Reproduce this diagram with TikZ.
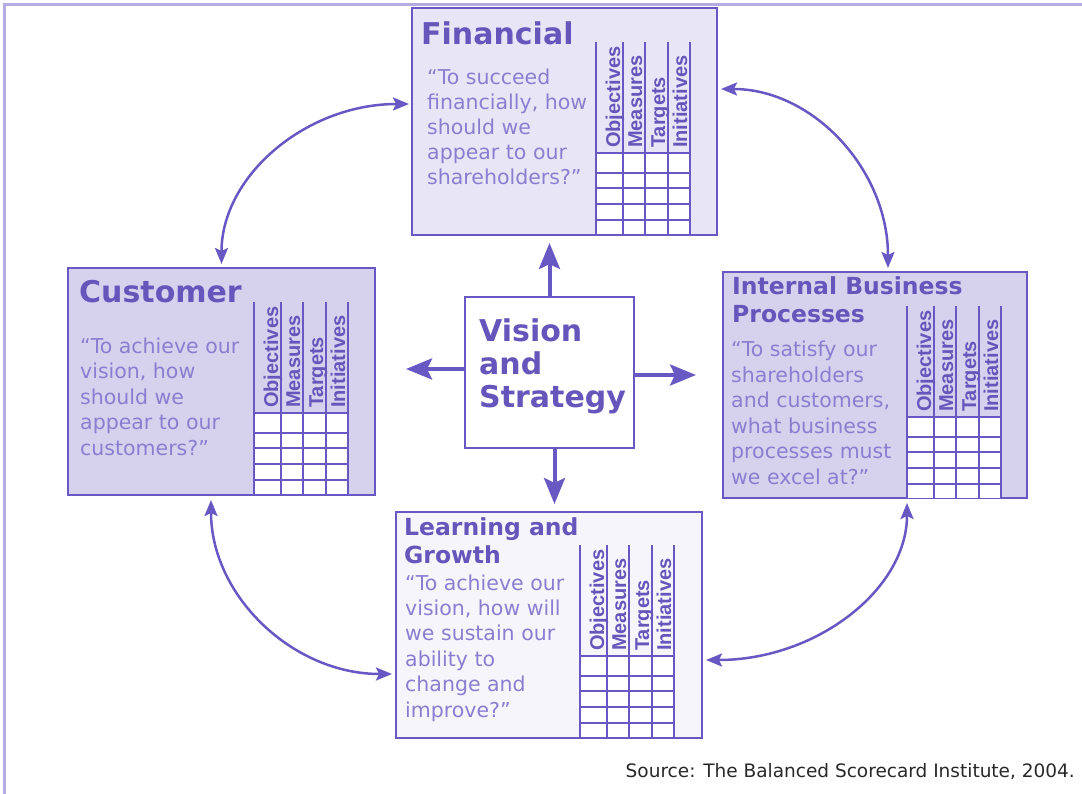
\documentclass[tikz,border=0pt]{standalone}
\usepackage{fontspec}
\setmainfont{DejaVu Sans}
\newfontfamily\labfont{Liberation Sans}
\usetikzlibrary{arrows.meta,calc}
\definecolor{lineC}{RGB}{104,88,196}
\definecolor{titleC}{RGB}{102,85,187}
\definecolor{quoteC}{RGB}{138,126,208}
\definecolor{finFill}{RGB}{232,230,246}
\definecolor{custFill}{RGB}{214,210,238}
\definecolor{learnFill}{RGB}{246,245,252}
\definecolor{frameC}{RGB}{180,172,224}
\definecolor{srcC}{RGB}{40,40,40}
\tikzset{
  box/.style={draw=lineC, line width=2pt, inner sep=0pt},
  gridline/.style={draw=lineC, line width=2pt},
  collab/.style={rotate=90, anchor=base west, inner sep=0pt, text=titleC,
    font=\labfont\bfseries\fontsize{20}{24}\selectfont},
  ttl/.style={anchor=base west, inner sep=0pt, text=titleC,
    font=\bfseries\fontsize{30}{36}\selectfont},
  ttlsmall/.style={anchor=base west, inner sep=0pt, text=titleC,
    font=\bfseries\fontsize{23.5}{28}\selectfont},
  quote/.style={anchor=base west, inner sep=0pt, text=quoteC,
    font=\fontsize{20.5}{25}\selectfont},
  biglink/.style={draw=lineC, line width=4pt,
    -{Stealth[length=26pt,width=21pt,inset=5pt]}},
  arclink/.style={draw=lineC, line width=2.5pt,
    {Stealth[length=16pt,width=13pt,inset=3pt]}-{Stealth[length=16pt,width=13pt,inset=3pt]}},
}
% grid: #1 prefix, #2 x, #3 y of grid top
\newcommand{\scgrid}[3]{%
  \fill[white] (#2,#3) rectangle ({#2+94},{#3+81});
  \draw[gridline]
    (#2,{#3-111}) -- (#2,{#3+82})
    ({#2+27},{#3-111}) -- ({#2+27},{#3+82})
    ({#2+49},{#3-111}) -- ({#2+49},{#3+82})
    ({#2+72},{#3-111}) -- ({#2+72},{#3+82})
    ({#2+94},{#3-111}) -- ({#2+94},{#3+82});
  \draw[gridline]
    (#2,#3) -- ({#2+94},#3)
    (#2,{#3+20}) -- ({#2+94},{#3+20})
    (#2,{#3+35}) -- ({#2+94},{#3+35})
    (#2,{#3+51}) -- ({#2+94},{#3+51})
    (#2,{#3+67}) -- ({#2+94},{#3+67});
  \node[collab] (#1c1) at ({#2+24},{#3-5}) {Objectives};
  \node[collab] (#1c2) at ({#2+46},{#3-5}) {Measures};
  \node[collab] (#1c3) at ({#2+69},{#3-5}) {Targets};
  \node[collab] (#1c4) at ({#2+91},{#3-5}) {Initiatives};
}
% quote lines: #1 prefix, #2 x, #3 first baseline, #4 pitch, #5 lines
\newcommand{\quotelines}[5]{%
  \foreach \t [count=\i from 0] in {#5}
    \node[quote] (#1\i) at (#2,{#3+#4*\i}) {\t};
}
\begin{document}
\begin{tikzpicture}[x=1pt,y=-1pt]
\useasboundingbox (0,0) rectangle (1082,794);
% frame
\draw[frameC, line width=3pt] (4.3,794) -- (4.3,4.5) -- (1082,4.5);

% boxes
\node[box, fill=finFill, minimum width=305pt, minimum height=227pt] (fin) at (564.5,121.5) {};
\node[box, fill=custFill, minimum width=307pt, minimum height=227pt] (cust) at (221.5,381.5) {};
\node[box, fill=custFill, minimum width=304pt, minimum height=226pt] (int) at (875,385) {};
\node[box, fill=learnFill, minimum width=306pt, minimum height=226pt] (learn) at (549,625) {};
\node[box, fill=white, minimum width=169pt, minimum height=151pt] (vis) at (549.5,372.5) {};

% grids
\scgrid{fin}{596}{153}
\scgrid{cust}{254}{413}
\scgrid{int}{907}{417}
\scgrid{learn}{580}{656}

% titles
\node[ttl] (finT) at (421,45) {Financial};
\node[ttl] (custT) at (79,303) {Customer};
\node[ttlsmall] (intT1) at (732,295) {Internal Business};
\node[ttlsmall] (intT2) at (732,323) {Processes};
\node[ttlsmall] (learnT1) at (404,535) {Learning and};
\node[ttlsmall] (learnT2) at (404,563) {Growth};

% quotes
\quotelines{finq}{427}{85}{25}{{“To succeed},{financially, how},{should we},{appear to our},{shareholders?”}}
\quotelines{custq}{80}{353}{25.5}{{“To achieve our},{vision, how},{should we},{appear to our},{customers?”}}
\quotelines{intq}{731}{357}{25.4}{{“To satisfy our},{shareholders},{and customers,},{what business},{processes must},{we excel at?”}}
\quotelines{learnq}{405}{590}{25.4}{{“To achieve our},{vision, how will},{we sustain our},{ability to},{change and},{improve?”}}

% vision text
\node[ttl] (vis1) at (479,342) {Vision};
\node[ttl] (vis2) at (479,374.5) {and};
\node[ttl] (vis3) at (479,407) {Strategy};

% straight arrows from vision
\coordinate (upS) at (vis.north);
\coordinate (upT) at ($(vis.north |- fin.south)+(0,7)$);
\draw[biglink] (upS) -- (upT);
\coordinate (dnS) at ($(vis.south)+(5,0)$);
\coordinate (dnT) at ($(dnS |- learn.north)+(0,-7)$);
\draw[biglink] (dnS) -- (dnT);
\coordinate (lfS) at ($(vis.west)+(0,-3.5)$);
\coordinate (lfT) at ($(lfS)+(-58,0)$);
\draw[biglink] (lfS) -- (lfT);
\coordinate (rtS) at ($(vis.east)+(0,2.5)$);
\coordinate (rtT) at ($(rtS)+(61,0)$);
\draw[biglink] (rtS) -- (rtT);

% curved arrows
\coordinate (a1) at ($(cust.north)+(0,-3)$);
\coordinate (b1) at ($(fin.north west)+(-2,97)$);
\draw[arclink] (a1) .. controls ($(a1)!0.55!(a1|-b1)$) and ($(b1)!0.55!(a1|-b1)$) .. (b1);
\coordinate (a2) at ($(int.north west)+(166,-3)$);
\coordinate (b2) at ($(fin.north east)+(3,82)$);
\draw[arclink] (a2) .. controls ($(a2)!0.55!(a2|-b2)$) and ($(b2)!0.55!(a2|-b2)$) .. (b2);
\coordinate (a3) at ($(cust.south west)+(144,4)$);
\coordinate (b3) at ($(learn.north west)+(-3,163)$);
\draw[arclink] (a3) .. controls ($(a3)!0.55!(a3|-b3)$) and ($(b3)!0.55!(a3|-b3)$) .. (b3);
\coordinate (a4) at ($(int.south west)+(185,4)$);
\coordinate (b4) at ($(learn.north east)+(3,149)$);
\draw[arclink] (a4) .. controls ($(a4)!0.55!(a4|-b4)$) and ($(b4)!0.55!(a4|-b4)$) .. (b4);

% source
\node[anchor=base east, inner sep=0pt, text=srcC, font=\fontsize{18.5}{22}\selectfont] (src) at (1075,777)
  {Source: The Balanced Scorecard Institute, 2004.};
\end{tikzpicture}
\end{document}
